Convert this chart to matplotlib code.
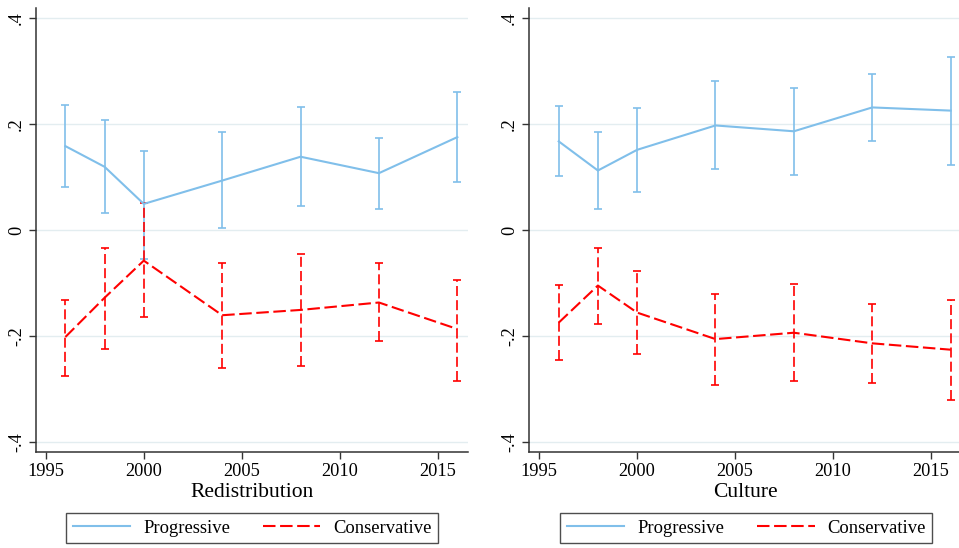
import matplotlib
matplotlib.use("Agg")
import matplotlib.pyplot as plt
from matplotlib.lines import Line2D
import numpy as np

plt.rcParams["font.family"] = ["Liberation Serif", "DejaVu Serif"]

years = [1996, 1998, 2000, 2004, 2008, 2012, 2016]

# Redistribution: point estimates with 95% confidence bounds
redis_prog = [0.159, 0.120, 0.050, 0.094, 0.139, 0.108, 0.176]
redis_prog_lo = [0.081, 0.032, -0.053, 0.004, 0.046, 0.040, 0.091]
redis_prog_hi = [0.237, 0.208, 0.149, 0.185, 0.232, 0.175, 0.262]
redis_cons = [-0.201, -0.127, -0.057, -0.160, -0.150, -0.136, -0.186]
redis_cons_lo = [-0.274, -0.223, -0.164, -0.260, -0.255, -0.208, -0.284]
redis_cons_hi = [-0.131, -0.033, 0.052, -0.061, -0.044, -0.062, -0.093]

# Culture: point estimates with 95% confidence bounds
cult_prog = [0.168, 0.113, 0.152, 0.198, 0.187, 0.232, 0.226]
cult_prog_lo = [0.103, 0.041, 0.073, 0.116, 0.105, 0.168, 0.124]
cult_prog_hi = [0.235, 0.185, 0.231, 0.282, 0.269, 0.296, 0.328]
cult_cons = [-0.174, -0.104, -0.155, -0.205, -0.193, -0.213, -0.225]
cult_cons_lo = [-0.244, -0.176, -0.233, -0.291, -0.284, -0.287, -0.319]
cult_cons_hi = [-0.103, -0.033, -0.076, -0.120, -0.102, -0.139, -0.132]

panel_titles = ["Redistribution", "Culture"]
series_labels = ["Progressive", "Conservative"]
ytick_vals = [-0.4, -0.2, 0.0, 0.2, 0.4]
ytick_labels = ["-.4", "-.2", "0", ".2", ".4"]
xtick_vals = [1995, 2000, 2005, 2010, 2015]

BLUE = "#80bfea"
RED = "#ff0000"
DASH = (0, (6, 2.2))

W, H = 959, 548
fig = plt.figure(figsize=(W / 100, H / 100), dpi=100)

ax_w = 432.3 / W
ax_h = (452 - 8.3) / H
ax_b = 1 - 452 / H
lefts = [36 / W, 529.3 / W]

panels = [
    (redis_prog, redis_prog_lo, redis_prog_hi, redis_cons, redis_cons_lo, redis_cons_hi),
    (cult_prog, cult_prog_lo, cult_prog_hi, cult_cons, cult_cons_lo, cult_cons_hi),
]


def draw_series(ax, y, lo, hi, color, dashed):
    y = np.asarray(y)
    err = np.vstack([y - np.asarray(lo), np.asarray(hi) - y])
    ls = DASH if dashed else "-"
    line, caps, bars = ax.errorbar(
        years, y, yerr=err, color=color, lw=1.5, elinewidth=1.2,
        capsize=3.2, capthick=1.2, zorder=3,
    )
    line.set_linestyle(ls)
    if dashed:
        for b in bars:
            b.set_linestyle((0, (6, 2.5)))


for i, (left, data) in enumerate(zip(lefts, panels)):
    ax = fig.add_axes([left, ax_b, ax_w, ax_h])
    p, plo, phi, c, clo, chi = data
    draw_series(ax, p, plo, phi, BLUE, False)
    draw_series(ax, c, clo, chi, RED, True)

    ax.set_xlim(1994.5, 2016.56)
    ax.set_ylim(-0.418, 0.419)
    ax.set_yticks(ytick_vals)
    ax.set_yticklabels(ytick_labels, rotation=90, va="center")
    ax.set_xticks(xtick_vals)
    ax.grid(axis="y", color="#e3edf0", lw=1.0, zorder=0)
    ax.set_axisbelow(True)
    for s in ["top", "right"]:
        ax.spines[s].set_visible(False)
    for s in ["left", "bottom"]:
        ax.spines[s].set_color("#333333")
        ax.spines[s].set_linewidth(1.1)
    ax.tick_params(axis="both", direction="out", length=5, width=1.0,
                   color="#333333", labelsize=13.2, pad=3)
    ax.set_xlabel(panel_titles[i], fontsize=15.5, labelpad=2)

    handles = [
        Line2D([], [], color=BLUE, lw=1.5),
        Line2D([], [], color=RED, lw=1.5, ls=DASH),
    ]
    cx = [252.2, 746.3][i]
    leg = fig.legend(
        handles, series_labels, loc="center",
        bbox_to_anchor=(cx / W, 1 - 528.3 / H), ncol=2, fontsize=13.4,
        frameon=True, fancybox=False, edgecolor="#222222",
        handlelength=3.1, handletextpad=0.7, columnspacing=1.75,
        borderpad=0.35, borderaxespad=0,
    )
    leg.get_frame().set_linewidth(1.0)

fig.savefig("out.png", dpi=100, facecolor="white")
